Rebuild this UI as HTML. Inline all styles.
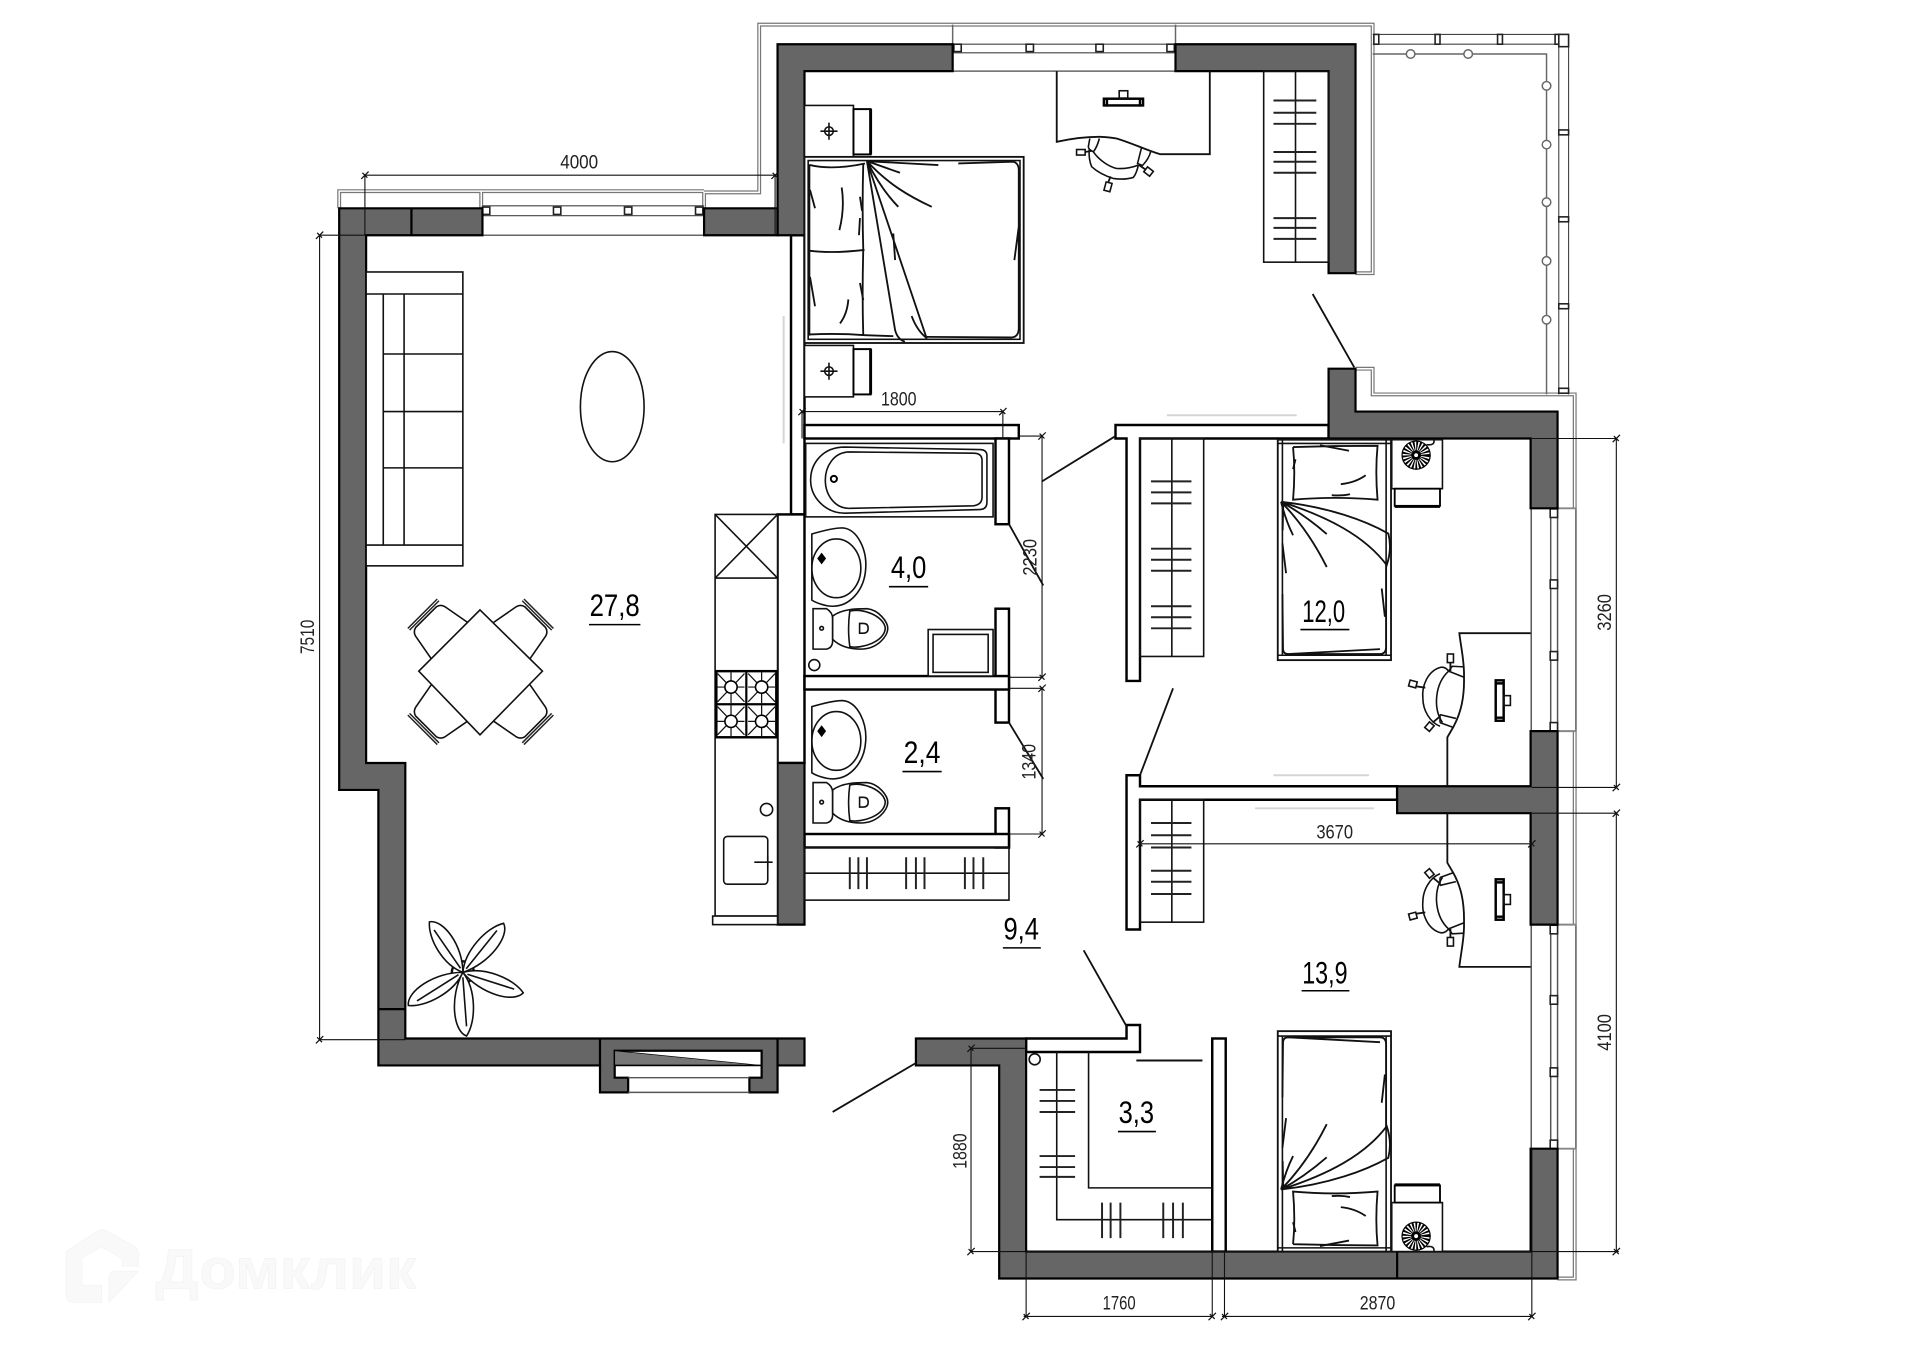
<!DOCTYPE html>
<html><head><meta charset="utf-8"><title>План квартиры</title>
<style>
html,body{margin:0;padding:0;background:#fff}
svg{display:block}
.w{fill:#666;stroke:#000;stroke-width:1.8}
.p{fill:#fff;stroke:#000;stroke-width:2}
.f{fill:#fff;stroke:#111;stroke-width:1.3}
.n{fill:none;stroke:#111;stroke-width:1.3}
.h{fill:none;stroke:#111;stroke-width:1.5}
.t{fill:none;stroke:#222;stroke-width:1.6}
.g{fill:none;stroke:#777;stroke-width:3.2}
.gi{fill:none;stroke:#fff;stroke-width:1.2}
.l{fill:none;stroke:#666;stroke-width:1.2}
.d{fill:none;stroke:#111;stroke-width:.9}
.gh{fill:none;stroke:#d5d5d5;stroke-width:1.6}
.dt{font-family:"Liberation Sans",sans-serif;font-size:16px;fill:#222}
.lb{font-family:"Liberation Sans",sans-serif;font-size:25.6px;fill:#000}
.sq{fill:#fff;stroke:#222;stroke-width:1.3}
</style></head><body>
<svg width="1920" height="1357" viewBox="0 0 1568 1108" xmlns="http://www.w3.org/2000/svg">
<defs>
<g id="sink">
<path class="f" d="M663,436 Q680,431 688,431 C701,432 708,450 707,464 C706,482 694,495 680,495 C674,495 666,492 663,490 Z"/>
<ellipse class="n" cx="683" cy="464" rx="20" ry="24"/>
<path d="M668,456 l3,-4 3,4 -3,4z" fill="#000" stroke="#000"/>
</g>
<g id="toilet">
<path class="f" d="M664,497 H675 Q680,500 680,505 V523 Q680,529 675,530 H664 Z"/>
<path class="f" d="M680,503 C688,497 700,497 708,497 C718,498 725,508 725,513 C725,520 716,530 703,530 C695,530 686,528 680,522 Z"/>
<path class="n" d="M694,499 Q692,513 694,528 C704,530 722,524 723,513 C722,503 704,496 694,499Z"/>
<path class="n" d="M702,509 h3 q4,0 4,4 t-4,4 h-3z"/>
<circle class="n" cx="671" cy="513" r="1.5"/>
</g>
<g id="chair">
<path class="n" d="M1176,545 C1166,548 1161,560 1162,570 C1162,580 1168,590 1176,593"/>
<path class="n" d="M1183,548 C1172,558 1170,578 1178,590"/>
<path class="n" d="M1176,545 Q1180,544 1183,548"/>
<path class="n" d="M1183,548 L1186,544 L1195.600,544.500 M1183,548 L1195.600,553"/>
<path class="n" d="M1176,583.500 L1189,586.600 M1176,590 L1187,594 M1176,583.500 L1176,590"/>
<path class="h" d="M1184.500,541 V548 M1154,560 L1164,561.500 M1170,590 L1176,585"/>
<rect class="f" x="1182" y="534" width="5" height="7"/>
<rect class="f" x="1151" y="556" width="6" height="5" transform="rotate(15 1154 558)"/>
<rect class="f" x="1165" y="590" width="5" height="6" transform="rotate(40 1167 593)"/>
</g>
<g id="phone">
<rect x="1221.500" y="555.500" width="6.500" height="33" fill="#fff" stroke="#000" stroke-width="2"/>
<path d="M1221,558 h7 M1221,586 h7" stroke="#000" stroke-width="2"/>
<rect x="1228" y="568" width="5.500" height="8" class="n"/>
</g>
<g id="fan">
<circle r="11.500" fill="#fff" stroke="#000" stroke-width="1"/>
<circle r="7.500" fill="none" stroke="#000" stroke-width="7.500" stroke-dasharray="1.2 1"/>
<circle r="4" fill="#000"/><circle r="1.6" fill="#fff"/>
</g>
<g id="leaf"><path class="f" d="M0,0 C-11,-14 -11,-40 -3,-52 C8,-48 11,-20 0,0Z"/><path class="n" d="M0,-4 L-3,-44"/></g>
<g id="tch"><path class="n" d="M-21,0 L-17,-22 Q-16,-26 -12,-27 L12,-27 Q16,-26 17,-22 L21,0"/><path d="M-17,-29 H17 M-17,-31 H17" stroke="#222" stroke-width="1.2" fill="none"/></g>
<g id="xt"><path d="M-3,3 L3,-3 M-2,-2 L2,2" stroke="#111" stroke-width="1" fill="none"/></g>
<g id="ns"><rect class="f" x="657" y="86" width="40" height="42"/><rect x="697" y="89" width="14" height="37" fill="#fff" stroke="#000" stroke-width="1.6"/><path d="M711,89 V126" stroke="#000" stroke-width="2.4"/><circle class="n" cx="677" cy="107" r="3.500"/><path class="n" d="M670,107 H684 M677,100 V114"/></g>
<g id="bed2">
<rect class="f" x="1043.500" y="359" width="92.500" height="180" style="stroke-width:1.5"/>
<path class="n" d="M1047.300,359 V535 M1132,359 V535 M1043.500,535 H1136 M1043.500,362 H1136"/>
<g class="h">
<path d="M1056,365 Q1090,364 1125,364 Q1123,385 1125,408 Q1090,405 1056,408 Q1058,385 1056,365"/>
<path d="M1058,375 l-2,8 M1078,363.500 L1101.700,368 M1095,395.300 Q1107,394 1115.300,388 M1087.600,404.300 Q1096,405 1102.500,403.500"/>
<path d="M1046.200,409.700 C1085,414 1115,425 1133.800,435.600 Q1137,448 1132.500,461.400 C1115,438 1085,422 1046.200,409.700"/>
<path d="M1046.200,409.700 Q1050,425 1056,437 M1046.200,409.700 Q1068,432 1083.500,463 M1046.200,409.700 Q1065,420 1083.500,436"/>
<path d="M1047.300,443.700 L1050.300,468 M1047.300,485 L1047.800,530 Q1048,534 1052,534 L1127,530 M1128.400,480.500 L1131,503.600 M1132,461 V528 Q1132,534 1127,534 L1052,534 M1048,410 L1047.500,433"/>
</g>
<rect class="f" x="1136.600" y="359" width="41.400" height="40"/>
<rect x="1139" y="399" width="37" height="14" fill="#fff" stroke="#000" stroke-width="1.5"/><path d="M1139,413.500 H1176" stroke="#000" stroke-width="2.4"/>
<use href="#fan" x="1156.500" y="371.600"/>
<path class="n" d="M1165,363 q7,1 6,-4"/>
</g>
</defs>

<rect width="1568" height="1108" fill="#fff"/>

<!-- watermark -->
<g fill="#f9f9f9" stroke="#f3f3f3" stroke-width=".6">
<path d="M54,1022 L80,1005 Q83,1003 87,1005 L110,1018 Q113,1020 113,1024 V1034 H100 V1028 L83,1018 L67,1027 V1049.500 H83 V1063.500 H60 Q54,1063.500 54,1057Z"/>
<path d="M89,1063.500 V1044 Q89,1038 95,1038 H113 Z"/>
<text x="127" y="1052" font-family="'Liberation Sans',sans-serif" font-weight="bold" font-size="46" textLength="213" lengthAdjust="spacingAndGlyphs">Домклик</text>
</g>

<!-- balcony double lines -->
<g>
<path class="g" d="M277,170 V156 H393 M393,170 V156 H575 M575,170 V157 H620 V20 H1121 V223 H1107"/>
<path class="gi" d="M277,170 V156 H393 M393,170 V156 H575 M575,170 V157 H620 V20 H1121 V223 H1107"/>
<path class="l" d="M778,20 V36 M960,20 V36"/>
<path class="g" d="M1107,301 H1121 V322 H1286 V415 M1286,597 V755 M1286,938 V1044 H1272"/>
<path class="gi" d="M1107,301 H1121 V322 H1286 V415 M1286,597 V755 M1286,938 V1044 H1272"/>
<path d="M1287,415 V597 M1287,755 V938" stroke="#666" stroke-width="1.3" fill="none"/>
<path d="M1272,415 H1287 M1272,597 H1287 M1272,755 H1287 M1272,938 H1287" stroke="#888" stroke-width="1.6" fill="none"/>
</g>

<!-- glazing -->
<g>
<path class="d" style="stroke:#444" d="M394,168 H575 M394,176 H575 M778,36 H960 M778,43 H960 M1121,28 H1281 M1121,36 H1273 M1273,28 V322 M1281,28 V322"/>
<path class="l" d="M394,192 H575 M778,58 H960 M1121,44 H1263 V322"/>
<g class="sq"><rect x="394" y="169" width="6" height="6"/><rect x="452" y="169" width="6" height="6"/><rect x="510" y="169" width="6" height="6"/><rect x="568" y="169" width="6" height="6"/>
<rect x="779" y="36" width="6" height="6"/><rect x="838" y="36" width="6" height="6"/><rect x="895" y="36" width="6" height="6"/><rect x="953" y="36" width="6" height="6"/>
<rect x="1122" y="28" width="4" height="8"/><rect x="1172" y="28" width="4" height="8"/><rect x="1223" y="28" width="4" height="8"/><rect x="1270" y="28" width="4" height="8"/><rect x="1273" y="28" width="8" height="10"/>
<rect x="1273" y="106" width="8" height="4"/><rect x="1273" y="177" width="8" height="4"/><rect x="1273" y="248" width="8" height="4"/><rect x="1273" y="317" width="8" height="4"/></g>
<g fill="#fff" stroke="#666" stroke-width="1.2"><circle cx="1152" cy="44" r="3.500"/><circle cx="1199" cy="44" r="3.500"/><circle cx="1263" cy="70" r="3.500"/><circle cx="1263" cy="118" r="3.500"/><circle cx="1263" cy="165" r="3.500"/><circle cx="1263" cy="213" r="3.500"/><circle cx="1263" cy="261" r="3.500"/></g>
<path d="M1250.500,415 V597 M1250.500,755 V938 M1266.400,415 V597 M1272,415 V597 M1266.400,755 V938 M1272,755 V938" stroke="#555" stroke-width="1.2" fill="none"/>
<g class="sq"><rect x="1266" y="415.500" width="6" height="7"/><rect x="1266" y="473.500" width="6" height="7"/><rect x="1266" y="532" width="6" height="7"/><rect x="1266" y="590" width="6" height="7"/>
<rect x="1266" y="755.500" width="6" height="7"/><rect x="1266" y="813" width="6" height="7"/><rect x="1266" y="872" width="6" height="7"/><rect x="1266" y="931" width="6" height="7"/></g>
</g>

<!-- partitions (white) -->
<g>
<rect class="p" x="646" y="192" width="11" height="228"/>
<rect class="p" x="635" y="420" width="22" height="203"/>
<rect class="p" x="657" y="347" width="175" height="11"/>
<rect class="p" x="813" y="358" width="11" height="70"/>
<rect class="p" x="813" y="497" width="11" height="93"/>
<rect class="p" x="657" y="552" width="167" height="11"/>
<rect class="p" x="813" y="660" width="11" height="32"/>
<rect class="p" x="657" y="681" width="167" height="11"/>
<path class="p" d="M911,358 V347 H1085 V358 H931 V556 H920 V358Z"/>
<path class="p" d="M920,759 V633 H931 V642 H1141 V653 H931 V759Z"/>
<path class="p" d="M838,848 H920 V837 H931 V859 H838Z"/>
<rect class="p" x="990" y="848" width="11" height="174"/>
</g>

<!-- walls -->
<g class="w">
<path d="M635,36 H778 V58 H657 V192 H635Z"/>
<path d="M960,36 H1107 V223 H1085 V58 H960Z"/>
<path d="M277,170 H394 V192 H299 V623 H331 V848 H657 V870 H635 V892 H612 V880 H622 V858 H502 V880 H513 V892 H490 V870 H309 V645 H277Z"/>
<path d="M575,170 H635 V192 H575Z"/>
<path d="M635,623 H657 V755 H635Z"/>
<path d="M1085,301 H1107 V336 H1272 V415 H1250 V358 H1085Z"/>
<path d="M1250,597 H1272 V755 H1250 V664 H1141 V642 H1250Z"/>
<path d="M748,848 H838 V1022 H1250 V938 H1272 V1044 H816 V870 H748Z"/>
<path fill="none" d="M336,170 V192 M309,824 H331 M1141,1022 V1044 M490,848 V870 M635,848 V870"/>
</g>
<path d="M502,858 L622,870 H502Z" fill="#777" stroke="#000" stroke-width=".6"/>
<path d="M502,870 H622" fill="none" stroke="#000" stroke-width="1.4"/>
<path d="M513,880 H612 M513,892 H612" fill="none" stroke="#555" stroke-width="1.2"/>

<!-- ghost sliders -->
<path class="gh" d="M953,339 H1059 M1040,633 H1118 M1025,660 H1122 M640,258 V362"/>

<!-- door leaves -->
<path class="h" d="M680,908 L748,868 M851,393 L911,356 M824,428 L852,478 M824,590 L852,636 M958,562 L931,633 M885,776 L920,838 M1072,240 L1106,300"/>

<!-- living furniture -->
<rect class="f" x="299" y="222" width="79" height="240"/>
<path class="n" d="M299,240 H378 M299,445 H378 M313,240 V445 M330,240 V445 M313,289 H378 M313,336 H378 M313,382 H378"/>
<ellipse class="n" cx="500" cy="332" rx="26" ry="45"/>
<g>
<use href="#tch" transform="translate(367,523) rotate(-45)"/>
<use href="#tch" transform="translate(418,523) rotate(45)"/>
<use href="#tch" transform="translate(418,574) rotate(135)"/>
<use href="#tch" transform="translate(367,574) rotate(-135)"/>
<path class="f" d="M392,498 L443,548 L392,600 L342,548Z"/>
</g>
<g>
<circle cx="378" cy="794" r="9" fill="#fff" stroke="#111" stroke-width="2"/>
<use href="#leaf" transform="translate(378,794) rotate(-30) scale(1,.95)"/>
<use href="#leaf" transform="translate(378,794) rotate(43)"/>
<use href="#leaf" transform="translate(378,794) rotate(112)"/>
<use href="#leaf" transform="translate(378,794) rotate(-118)"/>
<use href="#leaf" transform="translate(378,794) rotate(180)"/>
</g>

<!-- kitchen -->
<g>
<rect class="f" x="584" y="420" width="51" height="328"/>
<rect class="f" x="582" y="748" width="53" height="7"/>
<path class="n" d="M584,472 H635 M584,420 L635,472 M635,420 L584,472"/>
<rect x="585" y="548" width="49" height="54" fill="#fff" stroke="#000" stroke-width="2"/>
<path d="M609.500,548 V602 M585,575 H634" stroke="#000" stroke-width="1.8"/>
<g class="n" style="stroke-width:1">
<path d="M586,550 L608,573 M608,550 L586,573 M611,550 L633,573 M633,550 L611,573 M586,577 L608,600 M608,577 L586,600 M611,577 L633,600 M633,577 L611,600 M597,549 V574 M622,549 V574 M597,576 V601 M622,576 V601 M586,561 H608 M611,561 H633 M586,589 H608 M611,589 H633"/>
</g>
<g fill="#fff" stroke="#000" stroke-width="1.3"><circle cx="597" cy="561" r="5"/><circle cx="622" cy="561" r="5"/><circle cx="597" cy="589" r="5"/><circle cx="622" cy="589" r="5"/></g>
<circle class="n" cx="626" cy="661" r="5"/>
<rect class="n" x="591" y="683" width="36" height="39" rx="3"/>
<path class="n" d="M616,704 H631 M627,699 V708"/>
</g>

<!-- bathrooms -->
<g>
<rect class="f" x="658" y="362" width="153" height="60"/>
<path class="n" d="M690,365 C672,365 662,378 662,392 C662,406 674,419 690,419 L800,416 Q806,416 806,410 V372 Q806,367 800,367Z"/>
<path class="n" d="M694,369 C680,369 674,382 674,392 C674,404 682,416 695,415 L795,413 Q802,412 802,406 V376 Q802,370 795,370Z"/>
<circle cx="681" cy="391" r="2.500" fill="#fff" stroke="#000" stroke-width="1.6"/>
<use href="#sink"/>
<use href="#toilet"/>
<circle class="n" cx="665" cy="543" r="4.500"/>
<rect class="f" x="758" y="514" width="53" height="38"/>
<rect class="n" x="762" y="518" width="45" height="31"/>
<use href="#sink" transform="translate(0,141)"/>
<use href="#toilet" transform="translate(0,142)"/>
<rect class="n" x="657" y="692" width="167" height="43"/>
<path class="n" d="M657,713 H824"/>
<path class="t" d="M694,700 V726 M701,700 V726 M708,700 V726 M740,700 V726 M748,700 V726 M755,700 V726 M788,700 V726 M795,700 V726 M803,700 V726"/>
</g>

<!-- master bedroom -->
<use href="#ns"/>
<use href="#ns" transform="translate(0,196)"/>
<rect class="f" x="657" y="128" width="179" height="152" style="stroke-width:1.5"/>
<rect class="n" x="660" y="131" width="173" height="146"/>
<g class="h">
<path d="M661.500,134.700 Q680,139 706.400,133.400 M661.500,204.700 Q680,207 706,204 M661.500,273 Q685,272 706.400,273.600"/>
<path d="M661,134 V274 M705,133 Q704,170 705,204 Q704,240 705,274"/>
<path d="M687.400,153 Q690,170 685.500,187.800 M692.800,244.400 Q692,256 686,264 M661.500,155 L665.600,170 M661.500,226 L665.600,250 M702.300,160.600 L704,172 M702.300,178 L701.500,192 M702.300,231 L705,245"/>
<path d="M708,131.500 L731,269.500 Q733,277 739,279 M708,131.500 L756.800,276.300 M744.500,258 Q749,270 756.800,276 M729.500,190.500 L731,212.300"/>
<path d="M708,131.500 L735,141 M708,131.500 Q720,155 733.600,168.800 M708,131.500 C725,150 742,160 760.900,168.800"/>
<path d="M708,131.500 L766.300,134.700 M782.600,133.400 L827.500,132 Q832,133 832,139 V268 Q832,275 826,275.500 L757,275 M706.400,273.600 L729.500,274.400 M832,185 L828.400,212.300"/>
</g>
<path class="h" d="M863,58 V115.700 C875,113 888,111.500 898.300,111.600 Q906,112 911.900,113 C925,117 935,122 947.300,125.800 H988 V58"/>
<g>
<path class="n" d="M890,113 L888.800,119.800 Q889,122 892.900,123.900 Q896,120 897.800,113 M932.300,120.300 L929,133.400 L933,135 Q938,130 939.700,123.900"/>
<path class="n" d="M892.900,123.900 C897,130 905,136 912,137.500 Q921,138 929.600,134.700"/>
<path class="n" d="M889.500,122 Q889,130 891.500,136 Q898,142 909,145.600 Q918,147 925.500,144.800 Q928,142 929.600,135"/>
<path class="h" d="M886,124 L892,123 M907,144 L905,149 M930,134.500 L935,138"/>
<rect class="f" x="879.200" y="122" width="7" height="4.500"/>
<rect class="f" x="902.500" y="149" width="5" height="7" transform="rotate(15 905 152)"/>
<rect class="f" x="935" y="137.500" width="6" height="5" transform="rotate(38 938 140)"/>
</g>
<rect x="901.500" y="80.500" width="32" height="5.500" fill="#fff" stroke="#000" stroke-width="2"/>
<path d="M904,80 v7 M931,80 v7" stroke="#000" stroke-width="2"/>
<rect class="n" x="914" y="74" width="7" height="6"/>
<rect class="n" x="1032" y="58" width="53" height="156"/>
<path class="n" d="M1058,58 V214"/>
<path class="t" d="M1040,82 H1075 M1040,92 H1075 M1040,101 H1075 M1040,124 H1075 M1040,132 H1075 M1040,141 H1075 M1040,178 H1075 M1040,186 H1075 M1040,195 H1075"/>

<!-- bedroom 12,0 -->
<rect class="n" x="931" y="358" width="52" height="178"/>
<path class="n" d="M957,358 V536"/>
<path class="t" d="M940,393 H973 M940,402 H973 M940,411 H973 M940,448 H973 M940,457 H973 M940,466 H973 M940,495 H973 M940,504 H973 M940,513 H973"/>
<use href="#bed2"/>
<path class="h" d="M1250,517 H1191.800 C1193,528 1196,540 1195.600,552.600 C1196,570 1193,582 1187,593.400 L1182,602 V642"/>
<use href="#chair"/>
<use href="#phone"/>

<!-- bedroom 13,9 -->
<rect class="n" x="931" y="653" width="52" height="100"/>
<path class="n" d="M957,653 V753"/>
<path class="t" d="M940,672 H973 M940,682 H973 M940,692 H973 M940,711 H973 M940,720 H973 M940,730 H973"/>
<path class="h" d="M1182,664 V704.500 L1187,713 C1193,724 1196,736 1195.600,754 C1196,766 1193,778 1191.800,789.500 H1250"/>
<use href="#chair" transform="translate(0,1306.500) scale(1,-1)"/>
<use href="#phone" transform="translate(0,1306.500) scale(1,-1)"/>
<use href="#bed2" transform="translate(0,1381) scale(1,-1)"/>

<!-- closet 3,3 -->
<circle class="n" cx="845" cy="865" r="4.500"/>
<path class="n" d="M863,859 V996 H990 M889,859 V970 H990"/>
<path class="n" style="stroke-width:1.6" d="M928,866 H982"/>
<path class="t" d="M849,890 H878 M849,899 H878 M849,908 H878 M849,944 H878 M849,953 H878 M849,961 H878 M900,982 V1011 M907,982 V1011 M915,982 V1011 M950,982 V1011 M958,982 V1011 M966,982 V1011"/>

<!-- dimensions -->
<g class="d">
<path d="M298,143 H633 M298,143 V192 M633,143 V192"/>
<path d="M261,192 V849 M261,192 H298 M261,849 H331"/>
<path d="M655,336 H819 M655,336 V358 M819,336 V358"/>
<path d="M851,356 V553 M832,356 H851 M824,553 H851"/>
<path d="M851,562 V681 M824,562 H851 M824,681 H851"/>
<path d="M1320,358 V643 M1251,358 H1320 M1251,643 H1320"/>
<path d="M1320,664 V1022 M1251,664 H1320 M793,1022 H1322"/>
<path d="M931,689 H1251"/>
<path d="M793,856 V1022 M793,856 H838"/>
<path d="M836,1075 H990 M998,1075 H1251 M838,1022 V1075 M990,1022 V1075 M1000,1022 V1075 M1251,938 V1075"/>
</g>
<g>
<use href="#xt" x="298" y="143"/><use href="#xt" x="633" y="143"/><use href="#xt" x="261" y="192"/><use href="#xt" x="261" y="849"/>
<use href="#xt" x="655" y="336"/><use href="#xt" x="819" y="336"/><use href="#xt" x="851" y="356"/><use href="#xt" x="851" y="553"/><use href="#xt" x="851" y="562"/><use href="#xt" x="851" y="681"/>
<use href="#xt" x="1320" y="358"/><use href="#xt" x="1320" y="643"/><use href="#xt" x="1320" y="664"/><use href="#xt" x="1320" y="1022"/>
<use href="#xt" x="931" y="689"/><use href="#xt" x="1251" y="689"/><use href="#xt" x="793" y="856"/><use href="#xt" x="793" y="1022"/>
<use href="#xt" x="838" y="1075"/><use href="#xt" x="990" y="1075"/><use href="#xt" x="1000" y="1075"/><use href="#xt" x="1251" y="1075"/>
</g>
<g class="dt" text-anchor="middle">
<text x="473" y="137.500" textLength="31" lengthAdjust="spacingAndGlyphs">4000</text>
<text x="734" y="331" textLength="29" lengthAdjust="spacingAndGlyphs">1800</text>
<text x="1090" y="684.500" textLength="30" lengthAdjust="spacingAndGlyphs">3670</text>
<text x="914" y="1069.500" textLength="27" lengthAdjust="spacingAndGlyphs">1760</text>
<text x="1125" y="1069.500" textLength="29" lengthAdjust="spacingAndGlyphs">2870</text>
<text transform="translate(256.500,520) rotate(-90)" textLength="28" lengthAdjust="spacingAndGlyphs">7510</text>
<text transform="translate(846.500,455) rotate(-90)" textLength="30" lengthAdjust="spacingAndGlyphs">2230</text>
<text transform="translate(845.500,622) rotate(-90)" textLength="29" lengthAdjust="spacingAndGlyphs">1340</text>
<text transform="translate(1315.500,500) rotate(-90)" textLength="30" lengthAdjust="spacingAndGlyphs">3260</text>
<text transform="translate(1315.500,843) rotate(-90)" textLength="30" lengthAdjust="spacingAndGlyphs">4100</text>
<text transform="translate(789.500,940) rotate(-90)" textLength="29" lengthAdjust="spacingAndGlyphs">1880</text>
</g>

<!-- area labels -->
<g class="lb" text-anchor="middle">
<text x="502" y="503" textLength="41" lengthAdjust="spacingAndGlyphs">27,8</text>
<text x="742" y="472" textLength="29" lengthAdjust="spacingAndGlyphs">4,0</text>
<text x="753" y="623" textLength="30" lengthAdjust="spacingAndGlyphs">2,4</text>
<text x="834" y="767" textLength="29" lengthAdjust="spacingAndGlyphs">9,4</text>
<text x="1081" y="508" textLength="35" lengthAdjust="spacingAndGlyphs">12,0</text>
<text x="1082" y="803" textLength="37" lengthAdjust="spacingAndGlyphs">13,9</text>
<text x="928" y="917" textLength="29" lengthAdjust="spacingAndGlyphs">3,3</text>
</g>
<path d="M481,510 H523 M726,479 H758 M737,630 H769 M819,774 H850 M1062,514 H1102 M1063,809 H1102 M913,924 H944" stroke="#000" stroke-width="1.3" fill="none"/>
</svg>
</body></html>
